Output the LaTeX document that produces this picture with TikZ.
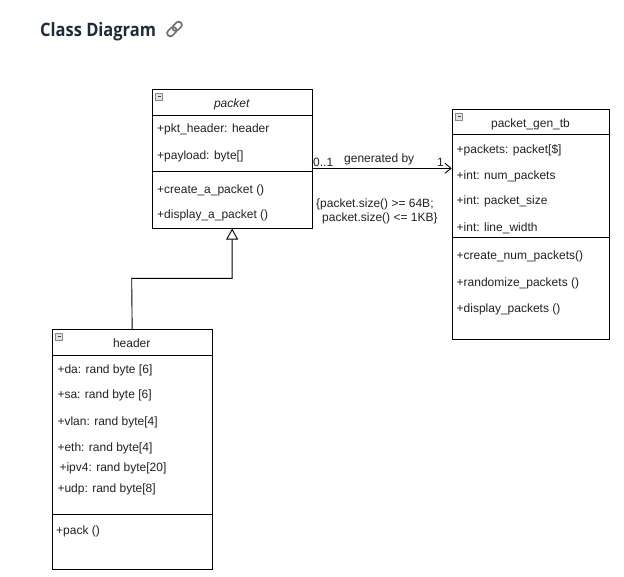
\documentclass[tikz,border=0pt]{standalone}
\usepackage{fontspec}
\setmainfont{Liberation Sans}
\newfontfamily\titlefont{Open Sans}
\usetikzlibrary{arrows.meta,calc}
\definecolor{titlecol}{HTML}{1E2B3C}
\definecolor{iconfill}{HTML}{E2E2E2}
\definecolor{icondraw}{HTML}{8A8A8A}
\definecolor{linkcol}{HTML}{707070}
\definecolor{txt}{HTML}{222222}
\tikzset{
  classbox/.style={draw=black, line width=0.9pt, inner sep=0pt, anchor=north west},
  divider/.style={draw=black, line width=0.9pt},
  member/.style={anchor=base west, inner sep=0pt, font=\fontsize{12}{14}\selectfont, text=txt},
  ctitle/.style={anchor=base, inner sep=0pt, font=\fontsize{12}{14}\selectfont, text=txt},
  lbl/.style={anchor=base west, inner sep=0pt, font=\fontsize{12}{14}\selectfont, text=txt},
  minusicon/.style={draw=icondraw, fill=iconfill, line width=0.5pt},
  inherit/.style={draw=black, line width=0.9pt, -{Triangle[open, length=11pt, width=12pt, line width=0.9pt]}},
  assoc/.style={draw=black, line width=0.9pt, -{Straight Barb[length=6pt, width=10pt, line width=0.9pt]}}
}
\newcommand{\minusbox}[1]{%
  \draw[minusicon] ($(#1.north west)+(4,4)$) rectangle ++(7,7);
  \draw[black!75, line width=1pt] ($(#1.north west)+(5.8,7.5)$) -- ++(3.4,0);
}
\begin{document}
\begin{tikzpicture}[x=1pt, y=-1pt]
\useasboundingbox (0,0) rectangle (624,576);
\fill[white] (0,0) rectangle (624,576);

% title
\node[anchor=base west, inner sep=0pt, text=titlecol, font=\titlefont\bfseries\fontsize{18.5}{20}\selectfont] (title) at (40,36) {\scalebox{0.89}[1]{Class Diagram}};
% link icon
\begin{scope}[shift={(174.5,29)}, rotate=45]
  \draw[linkcol, line width=1.7pt, rounded corners=3pt] (-9,-3.2) rectangle (1.5,3.2);
  \draw[linkcol, line width=1.7pt, rounded corners=3pt] (-1.5,-3.2) rectangle (9,3.2);
\end{scope}

% packet class
\node[classbox, minimum width=160pt, minimum height=138.4pt] (packet) at (151.7,89.3) {};
\draw[divider] (packet.west |- 0,115.7) -- (packet.east |- 0,115.7);
\draw[divider] (packet.west |- 0,171.7) -- (packet.east |- 0,171.7);
\minusbox{packet}
\node[ctitle, font=\fontsize{12}{14}\selectfont\itshape] (ptitle) at (231.7,107.5) {packet};
\node[member] (p1) at (157,132.5) {+pkt\_header: header};
\node[member] (p2) at (157,159.5) {+payload: byte[]};
\node[member] (p3) at (157,193.5) {+create\_a\_packet ()};
\node[member] (p4) at (157,218.5) {+display\_a\_packet ()};

% packet_gen_tb class
\node[classbox, minimum width=157.6pt, minimum height=230pt] (gen) at (451.7,109.3) {};
\draw[divider] (gen.west |- 0,134.3) -- (gen.east |- 0,134.3);
\draw[divider] (gen.west |- 0,237.3) -- (gen.east |- 0,237.3);
\minusbox{gen}
\node[ctitle] (gtitle) at (530.5,127) {packet\_gen\_tb};
\node[member] (g1) at (456.5,153.5) {+packets: packet[\$]};
\node[member] (g2) at (456.5,179.5) {+int: num\_packets};
\node[member] (g3) at (456.5,204.5) {+int: packet\_size};
\node[member] (g4) at (456.5,231) {+int: line\_width};
\node[member] (g5) at (456.5,259.5) {+create\_num\_packets()};
\node[member] (g6) at (456.5,286) {+randomize\_packets ()};
\node[member] (g7) at (456.5,312.5) {+display\_packets ()};

% header class
\node[classbox, minimum width=160pt, minimum height=239.7pt] (header) at (51.7,329.3) {};
\draw[divider] (header.west |- 0,355.7) -- (header.east |- 0,355.7);
\draw[divider] (header.west |- 0,514.3) -- (header.east |- 0,514.3);
\minusbox{header}
\node[ctitle] (htitle) at (131.7,347.5) {header};
\node[member] (h1) at (57.3,373.5) {+da: rand byte [6]};
\node[member] (h2) at (57.3,398.5) {+sa: rand byte [6]};
\node[member] (h3) at (57.3,425.5) {+vlan: rand byte[4]};
\node[member] (h4) at (57.3,451) {+eth: rand byte[4]};
\node[member] (h5) at (59.3,471) {+ipv4: rand byte[20]};
\node[member] (h6) at (57.3,492.5) {+udp: rand byte[8]};
\node[member] (h7) at (56,534.5) {+pack ()};

% inheritance
\coordinate (bend) at (131.7,278.3);
\draw[inherit] (header.north) -- (bend) -| (packet.south);

% association
\coordinate (as) at (311.7,168.3);
\coordinate (ae) at (451.7,168.3);
\draw[assoc] (as) -- (ae);
\node[lbl] (m1) at (313,166.5) {0..1};
\node[lbl] (m2) at (437,166.5) {1};
\node[lbl] (rel) at (344,162.3) {generated by};
\node[lbl] (c1) at (316,207.5) {\{packet.size() >= 64B;};
\node[lbl] (c2) at (322,221.5) {packet.size() <= 1KB\}};
\end{tikzpicture}
\end{document}
